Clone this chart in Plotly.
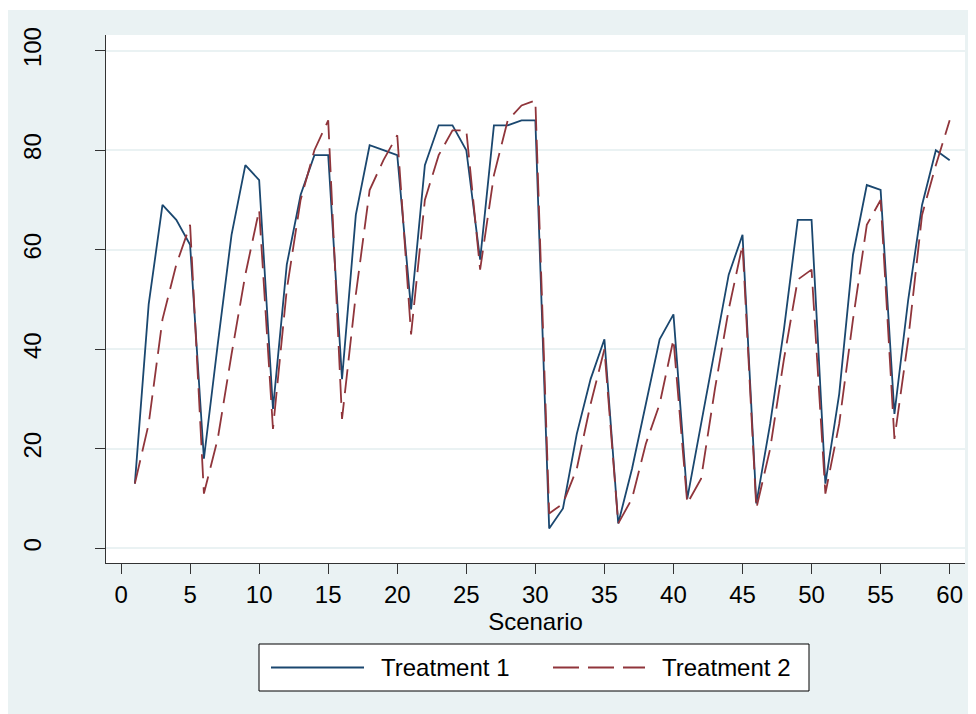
import plotly.graph_objects as go

scenario = list(range(1, 61))
treatment1 = [13, 49, 69, 66, 61, 18, 41, 63, 77, 74,
              28, 57, 71, 79, 79, 34, 67, 81, 80, 79,
              48, 77, 85, 85, 80, 58, 85, 85, 86, 86,
              4, 8, 23, 34, 42, 5, 16, 29, 42, 47,
              10, 25, 40, 55, 63, 9, 25, 44, 66, 66,
              13, 31, 59, 73, 72, 27, 50, 69, 80, 78]
treatment2 = [13, 25, 46, 57, 65, 11, 22, 39, 55, 68,
              24, 52, 70, 80, 86, 26, 51, 72, 78, 83,
              43, 70, 79, 84, 84, 56, 75, 86, 89, 90,
              7, 9, 16, 29, 40, 5, 10, 21, 29, 42,
              9, 14, 32, 48, 61, 8, 20, 38, 54, 56,
              11, 25, 46, 65, 70, 22, 42, 67, 77, 86]
series_names = ["Treatment 1", "Treatment 2"]
x_title = "Scenario"
x_ticks = [0, 5, 10, 15, 20, 25, 30, 35, 40, 45, 50, 55, 60]
y_ticks = [0, 20, 40, 60, 80, 100]

NAVY = "#1A476F"
MAROON = "#90353B"
BG = "#EAF2F3"
FONT = "Liberation Sans, Arial, sans-serif"
FS = 24

fig = go.Figure()
fig.add_trace(go.Scatter(x=scenario, y=treatment1, mode="lines", name=series_names[0],
                         line=dict(color=NAVY, width=1.8), showlegend=False))
fig.add_trace(go.Scatter(x=scenario, y=treatment2, mode="lines", name=series_names[1],
                         line=dict(color=MAROON, width=1.8, dash="24px,9px"), showlegend=False))

# figure is placed at (8,8) on the page; plot area in figure pixels
W, H = 968, 706
L, R, T, B = 98, 957, 27, 555
pw, ph = R - L, B - T
def px(xp):
    return (xp - L) / pw
def py(yp):
    return (B - yp) / ph

LEG_Y = 659.5
shapes = [
    dict(type="rect", xref="paper", yref="paper", x0=px(-20), x1=px(1000), y0=py(2), y1=py(-20),
         fillcolor="white", line=dict(width=0), layer="below"),
    # legend box
    dict(type="rect", xref="paper", yref="paper", x0=px(251), x1=px(801), y0=py(683), y1=py(636),
         fillcolor="white", line=dict(color="black", width=1)),
    dict(type="line", xref="paper", yref="paper", x0=px(263), x1=px(356), y0=py(LEG_Y), y1=py(LEG_Y),
         line=dict(color=NAVY, width=1.8)),
    dict(type="line", xref="paper", yref="paper", x0=px(545), x1=px(637), y0=py(LEG_Y), y1=py(LEG_Y),
         line=dict(color=MAROON, width=1.8, dash="26px,9px")),
]
annotations = [
    dict(xref="paper", yref="paper", x=px(371), y=py(LEG_Y), text=series_names[0], showarrow=False,
         xanchor="left", yanchor="middle", font=dict(family=FONT, size=FS, color="black")),
    dict(xref="paper", yref="paper", x=px(652), y=py(LEG_Y), text=series_names[1], showarrow=False,
         xanchor="left", yanchor="middle", font=dict(family=FONT, size=FS, color="black")),
]

fig.update_layout(
    width=W, height=H,
    margin=dict(l=L, r=W - R, t=T, b=H - B, pad=0),
    paper_bgcolor=BG, plot_bgcolor="white",
    font=dict(family=FONT, size=FS, color="black"),
    showlegend=False,
    shapes=shapes, annotations=annotations,
    xaxis=dict(range=[-1.09, 61.11], tickvals=x_ticks, ticks="outside", ticklen=10,
               tickcolor="#333333", tickwidth=1, showline=True, linecolor="#333333", linewidth=1,
               showgrid=False, zeroline=False,
               title=dict(text=x_title, standoff=0, font=dict(size=FS))),
    yaxis=dict(range=[-2.95, 103.15], tickvals=y_ticks, ticks="outside", ticklen=10,
               tickcolor="#333333", tickwidth=1, showline=True, linecolor="#333333", linewidth=1,
               showgrid=True, gridcolor=BG, gridwidth=2, zeroline=False,
               tickangle=-90, ticklabelstandoff=44),
)

fig.write_html("out.html")
